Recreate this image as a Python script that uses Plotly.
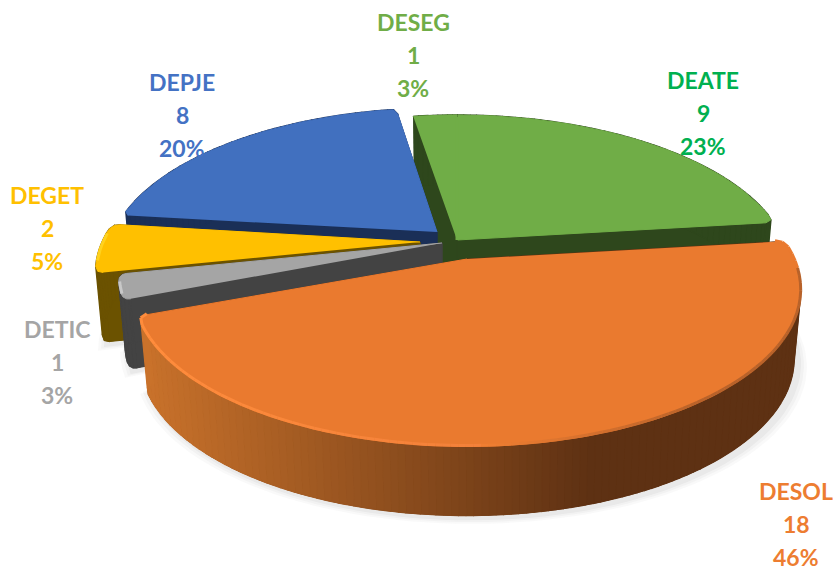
import numpy as np
import plotly.graph_objects as go

categories = ["DEATE", "DESOL", "DETIC", "DEGET", "DEPJE", "DESEG"]
values = [9, 18, 1, 2, 8, 1]
percents = ["23%", "46%", "3%", "5%", "20%", "3%"]
top_colors = ["#70AD47", "#EA7A2F", "#A5A5A5", "#FFC000", "#4170BF", "#70AD47"]
wall_colors = ["#2E471C", "#5E3113", "#434343", "#6B5200", "#1A2F57", "#2E471C"]
label_colors = ["#00B050", "#ED7D31", "#A5A5A5", "#FFC000", "#4472C4", "#70AD47"]

# layout of the projected, exploded pie (pixels of the 833x570 frame)
apex = {"DEATE": (457, 240), "DESEG": (457, 240), "DESOL": (467, 259), "DETIC": (452, 243),
        "DEGET": (429, 242), "DEPJE": (440, 233)}
tip = {"DEATE": (457, 240), "DESEG": (457, 240), "DESOL": (467, 259), "DETIC": (442, 243),
       "DEGET": (420, 242), "DEPJE": (437, 232)}
label_pos = {"DEATE": (703, 80), "DESOL": (796, 491), "DETIC": (57, 329),
             "DEGET": (47, 195), "DEPJE": (182, 82), "DESEG": (413, 22)}
draw_order = ["DEATE", "DESEG", "DEPJE", "DEGET", "DETIC", "DESOL"]
corner_r = {"DEATE": (0, 8), "DESEG": (0, 0), "DESOL": (9, 9), "DETIC": (8, 8),
            "DEGET": (8, 8), "DEPJE": (5, 5)}
cut_faces = {"DEATE": (False, True), "DESEG": (True, False), "DESOL": (True, True),
             "DETIC": (True, True), "DEGET": (True, True), "DEPJE": (True, True)}
A, B, K = 327.0, 150.0, 0.2
WALL, WALL_SX = 69.0, 0.98
LINE_GAP = 33


def project(name, theta, r=1.0, lower=False):
    cx, cy = apex[name]
    u, v = r * np.sin(theta), r * np.cos(theta)
    w = 1 + K * v
    sx = WALL_SX if lower else 1.0
    return cx + sx * A * u / w, cy - B * v / w + (WALL if lower else 0.0)


def poly(fig, xs, ys, color, opacity=1.0, lw=1.0):
    fig.add_trace(go.Scatter(x=list(xs), y=list(ys), mode="lines", fill="toself", fillcolor=color,
                             line=dict(color=color, width=lw), opacity=opacity,
                             hoverinfo="skip", showlegend=False))


def line(fig, xs, ys, color, width):
    fig.add_trace(go.Scatter(x=list(xs), y=list(ys), mode="lines",
                             line=dict(color=color, width=width),
                             hoverinfo="skip", showlegend=False))


def mix(c1, c2, t):
    t = float(np.clip(t, 0, 1))
    p = [int(c1[i:i + 2], 16) for i in (1, 3, 5)]
    q = [int(c2[i:i + 2], 16) for i in (1, 3, 5)]
    return "rgb(%d,%d,%d)" % tuple(round(a + (b - a) * t) for a, b in zip(p, q))


def rounded_outline(arc, corner_tip, r_start, r_end, n):
    """The arc with both arc/cut corners rounded, resampled to n points."""
    arc = [np.array(p, float) for p in arc]
    t = np.array(corner_tip, float)

    def along(points, dist):
        left = dist
        for a, b in zip(points[:-1], points[1:]):
            seg = np.linalg.norm(b - a)
            if seg >= left:
                return a + (b - a) * left / seg
            left -= seg
        return points[-1]

    def bez(p0, c, p1):
        return [(1 - s) ** 2 * p0 + 2 * s * (1 - s) * c + s ** 2 * p1 for s in np.linspace(0, 1, 9)]

    out = []
    c0, c1 = arc[0], arc[-1]
    if r_start > 0:
        p_cut = c0 + (t - c0) / np.linalg.norm(t - c0) * r_start
        out += bez(p_cut, c0, along(arc, r_start))
    out += [p for p in arc
            if (r_start == 0 or np.linalg.norm(p - c0) > r_start)
            and (r_end == 0 or np.linalg.norm(p - c1) > r_end)]
    if r_end > 0:
        p_cut = c1 + (t - c1) / np.linalg.norm(t - c1) * r_end
        out += bez(along(arc[::-1], r_end), c1, p_cut)
    pts = np.array(out)
    d = np.r_[0, np.cumsum(np.linalg.norm(np.diff(pts, axis=0), axis=1))]
    q = np.linspace(0, d[-1], n)
    return np.interp(q, d, pts[:, 0]), np.interp(q, d, pts[:, 1])


fractions = np.array(values) / sum(values)
ends = np.cumsum(fractions) * 2 * np.pi
starts = ends - fractions * 2 * np.pi
span = {c: (s, e) for c, s, e in zip(categories, starts, ends)}
span["DESEG"] = (span["DESEG"][0] - 2 * np.pi, span["DESEG"][1] - 2 * np.pi)
idx = {c: i for i, c in enumerate(categories)}

fig = go.Figure()

# soft ground shadow
for grow, alpha in [(9, 0.05), (6, 0.06), (3, 0.08)]:
    for name, (dx, dy) in [("DESOL", (4, 3)), ("DETIC", (4, 3)), ("DEGET", (5, 3))]:
        s, e = span[name]
        th = np.linspace(s, e, 80)
        pts = [project(name, t, 1.0, True) for t in th]
        xs = [p[0] + dx + grow * np.sin(t) for p, t in zip(pts, th)]
        ys = [p[1] + dy + grow * 0.6 for p in pts]
        cx, cy = apex[name]
        poly(fig, xs + [cx], ys + [cy + WALL], "#808080", alpha, 0)

for name in draw_order:
    i = idx[name]
    s, e = span[name]
    n = max(10, int((e - s) / np.pi * 120))
    th = np.linspace(s, e, n)
    tx, ty = tip[name]
    wall = wall_colors[i]
    rs, re = corner_r[name]
    tx_top, ty_top = rounded_outline([project(name, t) for t in th], (tx, ty), rs, re, n)
    bx, by = rounded_outline([project(name, t, 1.0, True) for t in th], (tx, ty + WALL), rs, re, n)
    # bottom disc part and the two cut faces
    poly(fig, list(bx) + [tx], list(by) + [ty + WALL], wall)
    if cut_faces[name][0]:
        poly(fig, [tx_top[0], tx, tx, bx[0]], [ty_top[0], ty, ty + WALL, by[0]], wall)
    if cut_faces[name][1]:
        poly(fig, [tx_top[-1], tx, tx, bx[-1]], [ty_top[-1], ty, ty + WALL, by[-1]], wall)
    # outer wall, shaded along x for the big slice
    for j in range(n - 1):
        xs = [tx_top[j], tx_top[j + 1], bx[j + 1], bx[j]]
        ys = [ty_top[j], ty_top[j + 1], by[j + 1], by[j]]
        color = wall
        if name == "DESOL":
            color = mix("#C9722B", "#5E3113", (np.mean(xs) - 145) / (590 - 145))
        poly(fig, xs, ys, color, lw=1.4)
    # top face
    poly(fig, list(tx_top) + [tx], list(ty_top) + [ty], top_colors[i])

    # the two green slices share one face: hide the joint between them
    if name == "DESEG":
        ex, ey = project(name, e)
        line(fig, [tx, ex], [ty, ey + 2], top_colors[i], 3)

    # bevel along the rim
    if name == "DESOL":
        for j in range(n - 1):
            xm = (tx_top[j] + tx_top[j + 1]) / 2
            ym = (ty_top[j] + ty_top[j + 1]) / 2
            if ym < 268:
                col = top_colors[i]
            elif xm < 480:
                col = mix("#FF8C3C", "#F3813A", (xm - 150) / 330)
            else:
                col = mix("#F07F32", "#B8622A", (xm - 480) / 220)
            line(fig, [tx_top[j], tx_top[j + 1]], [ty_top[j] - 1, ty_top[j + 1] - 1], col, 3)
    elif name == "DEGET":
        line(fig, tx_top[3:-3] + 1, ty_top[3:-3], "#FFD21F", 3)
    elif name == "DETIC":
        line(fig, tx_top[3:-3] + 1, ty_top[3:-3], "#C8C8C8", 3)

annotations = []
for c, v, p, col in zip(categories, values, percents, label_colors):
    x, y = label_pos[c]
    for k, txt in enumerate([c, str(v), p]):
        annotations.append(dict(x=x, y=y + k * LINE_GAP, xref="x", yref="y", text=txt, showarrow=False,
                                xanchor="center", yanchor="middle",
                                font=dict(family="Lato", size=23, color=col, weight=700)))

fig.update_layout(
    width=833, height=570, margin=dict(l=0, r=0, t=0, b=0),
    paper_bgcolor="white", plot_bgcolor="white", showlegend=False,
    xaxis=dict(range=[0, 833], visible=False, fixedrange=True),
    yaxis=dict(range=[570, 0], visible=False, fixedrange=True),
    annotations=annotations,
)
fig.write_html("out.html", config={"displayModeBar": False},
               post_script="document.body.style.margin='0';")
